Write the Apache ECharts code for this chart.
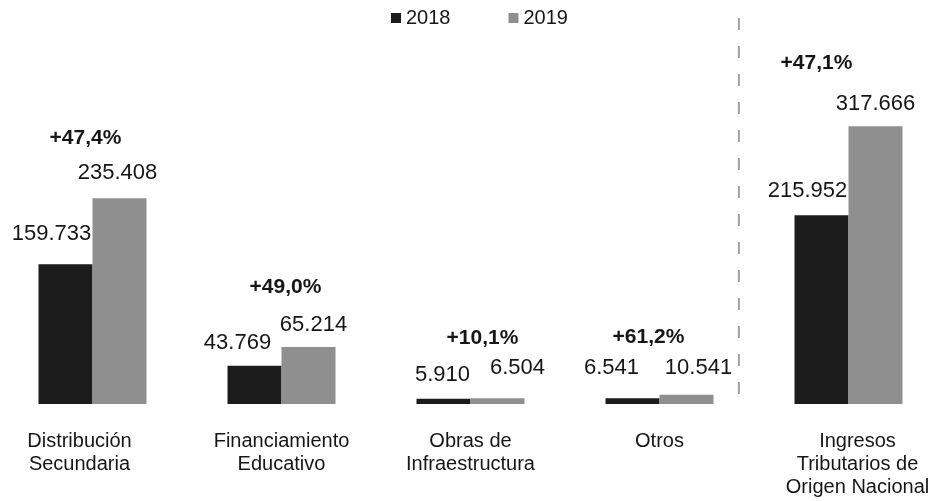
<!DOCTYPE html>
<html>
<head>
<meta charset="utf-8">
<style>
  html, body { margin: 0; padding: 0; background: #ffffff; }
  #chart { width: 933px; height: 501px; }
</style>
<script src="https://cdn.jsdelivr.net/npm/echarts@6/dist/echarts.min.js"></script>
</head>
<body>
<div id="chart"></div>
<script>
// Categories and yearly amounts
const categories = [
  'Distribución\nSecundaria',
  'Financiamiento\nEducativo',
  'Obras de\nInfraestructura',
  'Otros',
  'Ingresos\nTributarios de\nOrigen Nacional'
];
const seriesNames = ['2018', '2019'];
const values2018 = [159733, 43769, 5910, 6541, 215952];
const values2019 = [235408, 65214, 6504, 10541, 317666];

// Label placement (pixel shifts of each label's centre from its bar top)
const shift2018 = [[-14, -30], [-17, -23], [-1, -24], [-21, -30], [-14, -24]];
const shift2019 = [[-2, -25], [5, -22], [20, -30], [12, -27], [0, -22]];
const shiftPct = [[-34, -60], [-23, -60], [-15, -60], [-38, -58], [-59, -63]];
const axisLabelPad = [[0, 26, 0, 0], [0, 0, 0, 0], [0, 0, 0, 0], [0, 0, 0, 0], [0, 0, 0, 18]];

const FONT = '"Liberation Sans", Arial, sans-serif';
const TEXT = '#161616';
const VALUE_SIZE = 22;

const fmt = n => String(n).replace(/\B(?=(\d{3})+(?!\d))/g, '.');
const pct = (a, b) => '+' + ((b / a - 1) * 100).toFixed(1).replace('.', ',') + '%';

const valueLabel = {
  show: true,
  position: 'top',
  distance: 0,
  fontFamily: FONT,
  fontSize: VALUE_SIZE,
  lineHeight: VALUE_SIZE,
  color: TEXT,
  formatter: p => fmt(p.value)
};

function barData(values, shifts) {
  return values.map((v, i) => ({
    value: v,
    label: { offset: [shifts[i][0], shifts[i][1] + VALUE_SIZE / 2] }
  }));
}

const chart = echarts.init(document.getElementById('chart'), null, { renderer: 'canvas' });

chart.setOption({
  animation: false,
  backgroundColor: '#ffffff',
  textStyle: { fontFamily: FONT },
  legend: {
    data: seriesNames,
    left: 391,
    top: 8,
    padding: 0,
    icon: 'rect',
    itemWidth: 10,
    itemHeight: 10,
    itemGap: 58,
    textStyle: { fontFamily: FONT, fontSize: 20, color: TEXT }
  },
  grid: {
    left: -2,
    width: 945,
    top: 98,
    bottom: 97,
    containLabel: false,
    outerBoundsMode: 'none'
  },
  xAxis: {
    type: 'category',
    data: categories.map((c, i) => ({
      value: c,
      textStyle: { padding: axisLabelPad[i] }
    })),
    axisLine: { show: false },
    axisTick: { show: false },
    axisLabel: {
      interval: 0,
      margin: 26,
      fontFamily: FONT,
      fontSize: 20,
      lineHeight: 23,
      color: TEXT
    }
  },
  yAxis: {
    type: 'value',
    min: 0,
    max: 350000,
    show: false,
    splitLine: { show: false }
  },
  series: [
    {
      name: seriesNames[0],
      type: 'bar',
      barWidth: 54,
      barGap: '0%',
      itemStyle: { color: '#1c1c1c' },
      label: valueLabel,
      data: barData(values2018, shift2018)
    },
    {
      name: seriesNames[1],
      type: 'bar',
      barWidth: 54,
      barGap: '0%',
      itemStyle: { color: '#8f8f8f' },
      label: valueLabel,
      data: barData(values2019, shift2019),
      markPoint: {
        symbol: 'circle',
        symbolSize: 0,
        silent: true,
        label: {
          show: true,
          position: 'inside',
          fontFamily: FONT,
          fontSize: 21,
          fontWeight: 'bold',
          color: TEXT,
          formatter: p => pct(values2018[p.dataIndex], values2019[p.dataIndex])
        },
        data: values2019.map((v, i) => ({
          coord: [i, v],
          label: { offset: shiftPct[i] }
        }))
      }
    }
  ]
});

// Dashed divider separating the last category from the rest
const x3 = chart.convertToPixel({ xAxisIndex: 0 }, 3);
const x4 = chart.convertToPixel({ xAxisIndex: 0 }, 4);
const yBase = chart.convertToPixel({ yAxisIndex: 0 }, 0);
const yTop = chart.convertToPixel({ yAxisIndex: 0 }, 350000);
const xDiv = x3 + (x4 - x3) * 0.42;

chart.setOption({
  graphic: [{
    type: 'line',
    silent: true,
    shape: { x1: xDiv, y1: yTop - 80, x2: xDiv, y2: yBase - 4 },
    style: { stroke: '#a0a0a0', lineWidth: 2, lineDash: [12, 16] }
  }]
});
</script>
</body>
</html>
